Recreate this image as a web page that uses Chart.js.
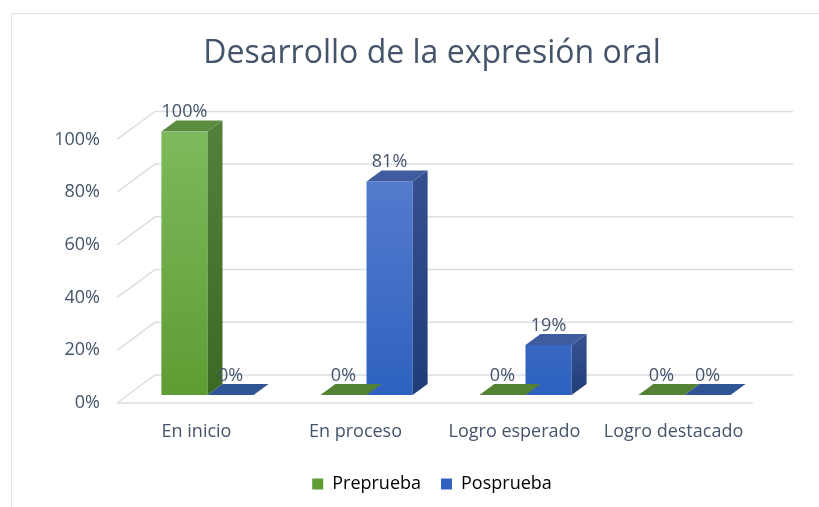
<!DOCTYPE html>
<html>
<head>
<meta charset="utf-8">
<script src="https://cdn.jsdelivr.net/npm/chart.js@4.4.0/dist/chart.umd.min.js"></script>
<style>
  html, body { margin: 0; padding: 0; background: #fff; overflow: hidden; }
  #frame { position: absolute; left: 11px; top: 13px; width: 840px; height: 500px; border: 1px solid #dfe2e8; }
  canvas { display: block; }
</style>
</head>
<body>
<div id="frame"><canvas id="BarChart3D" width="840" height="500"></canvas></div>
<script>
// data
const categories = ["En inicio", "En proceso", "Logro esperado", "Logro destacado"];
const preprueba = [100, 0, 0, 0];
const posprueba = [0, 81, 19, 0];
const yTicks = [0, 20, 40, 60, 80, 100];

// depth of the 3d look (floor depth and bar depth)
const FLOOR_FRONT = { dx: -11, dy: 8 };
const FLOOR_BACK = { dx: 27, dy: -20 };
const BAR_DEPTH = { dx: 15, dy: -11 };

const faces = [
    { front: ["#7cba5c", "#5e9d33"], side: ["#52803a", "#3d6a22"], top: "#5c8c40", flat: "#548235" },
    { front: ["#5c81d0", "#2e61c0"], side: ["#344f8f", "#1f3d78"], top: "#3e5c9e", flat: "#2f5597" }
];

function frontGradient(context, i) {
    const area = context.chart.chartArea;
    if (!area) return faces[i].front[1];
    const g = context.chart.ctx.createLinearGradient(0, area.top, 0, area.bottom);
    g.addColorStop(0, faces[i].front[0]);
    g.addColorStop(1, faces[i].front[1]);
    return g;
}

const threeD = {
    id: 'threeD',
    beforeDatasetsDraw(chart) {
        const ctx = chart.ctx;
        const a = chart.chartArea;
        const y = chart.scales.y;
        ctx.save();
        ctx.strokeStyle = "#dadee5";
        ctx.lineWidth = 1.5;
        yTicks.forEach(function (v) {
            const py = y.getPixelForValue(v);
            ctx.beginPath();
            ctx.moveTo(a.left + FLOOR_FRONT.dx, py + FLOOR_FRONT.dy);
            ctx.lineTo(a.left + FLOOR_BACK.dx, py + FLOOR_BACK.dy);
            ctx.lineTo(a.right + FLOOR_BACK.dx + 2, py + FLOOR_BACK.dy);
            ctx.stroke();
        });
        const p0 = y.getPixelForValue(0);
        ctx.beginPath();
        ctx.moveTo(a.left + FLOOR_FRONT.dx, p0 + FLOOR_FRONT.dy);
        ctx.lineTo(a.right + FLOOR_FRONT.dx, p0 + FLOOR_FRONT.dy);
        ctx.stroke();
        ctx.restore();
    },
    afterDatasetsDraw(chart) {
        const ctx = chart.ctx;
        const y = chart.scales.y;
        const base = y.getPixelForValue(0);
        ctx.save();
        chart.data.datasets.forEach(function (ds, i) {
            const meta = chart.getDatasetMeta(i);
            meta.data.forEach(function (bar, j) {
                const half = bar.width / 2;
                const l = bar.x - half, r = bar.x + half, t = bar.y;
                const dx = BAR_DEPTH.dx, dy = BAR_DEPTH.dy;
                const flat = ds.data[j] === 0;
                // side face
                if (!flat) {
                    const g = ctx.createLinearGradient(0, t, 0, base);
                    g.addColorStop(0, faces[i].side[0]);
                    g.addColorStop(1, faces[i].side[1]);
                    ctx.fillStyle = g;
                    ctx.beginPath();
                    ctx.moveTo(r, t);
                    ctx.lineTo(r + dx, t + dy);
                    ctx.lineTo(r + dx, base + dy);
                    ctx.lineTo(r, base);
                    ctx.closePath();
                    ctx.fill();
                }
                // top face
                ctx.fillStyle = flat ? faces[i].flat : faces[i].top;
                ctx.beginPath();
                ctx.moveTo(l, t);
                ctx.lineTo(r, t);
                ctx.lineTo(r + dx, t + dy);
                ctx.lineTo(l + dx, t + dy);
                ctx.closePath();
                ctx.fill();
                // value label
                ctx.fillStyle = "#44546a";
                ctx.font = "18px 'Open Sans'";
                ctx.textAlign = "center";
                ctx.textBaseline = "alphabetic";
                ctx.fillText(ds.data[j] + "%", bar.x, t + dy - 3);
            });
        });
        ctx.restore();
    }
};

let ctx = document.getElementById('BarChart3D').getContext('2d');

new Chart(ctx, {
    type: 'bar',
    data: {
        labels: categories,
        datasets: [
            {
                label: "Preprueba",
                data: preprueba,
                backgroundColor: function (c) { return frontGradient(c, 0); },
                borderWidth: 0
            },
            {
                label: "Posprueba",
                data: posprueba,
                backgroundColor: function (c) { return frontGradient(c, 1); },
                borderWidth: 0
            }
        ]
    },
    options: {
        responsive: false,
        animation: false,
        devicePixelRatio: 1,
        layout: { padding: { left: 0, right: 0, top: 0, bottom: 11 } },
        datasets: { bar: { categoryPercentage: 0.58, barPercentage: 1 } },
        plugins: {
            title: {
                display: true,
                text: "Desarrollo de la expresión oral",
                color: "#44546a",
                font: { family: "'Open Sans'", size: 32, weight: 'normal' },
                padding: { top: 21, bottom: 58 }
            },
            legend: {
                position: 'bottom',
                labels: {
                    color: "#44546a",
                    font: { family: "'Open Sans'", size: 18 },
                    boxWidth: 11,
                    boxHeight: 11,
                    padding: 20,
                    generateLabels: function (chart) {
                        return chart.data.datasets.map(function (ds, i) {
                            return { text: ds.label, fillStyle: faces[i].front[1], strokeStyle: faces[i].front[1], lineWidth: 0, datasetIndex: i };
                        });
                    }
                }
            },
            tooltip: { enabled: false }
        },
        scales: {
            x: {
                grid: { display: false, drawTicks: false },
                border: { display: false },
                ticks: { color: "#44546a", font: { family: "'Open Sans'", size: 18 }, padding: 26, labelOffset: -11, maxRotation: 0 },
                afterFit: function (scale) { scale.height = 60; }
            },
            y: {
                min: 0,
                max: 100,
                grid: { display: false, drawTicks: false },
                border: { display: false },
                ticks: {
                    stepSize: 20,
                    color: "#44546a",
                    font: { family: "'Open Sans'", size: 18 },
                    padding: 28,
                    labelOffset: 8,
                    callback: function (v) { return v + "%"; }
                },
                afterFit: function (scale) { scale.width = 116; }
            },
            // empty axis on the right, only to leave room for the back wall
            yRight: {
                position: 'right',
                display: true,
                grid: { display: false, drawTicks: false },
                border: { display: false },
                ticks: { display: false },
                afterFit: function (scale) { scale.width = 88; }
            }
        }
    },
    plugins: [threeD]
});
</script>
</body>
</html>
